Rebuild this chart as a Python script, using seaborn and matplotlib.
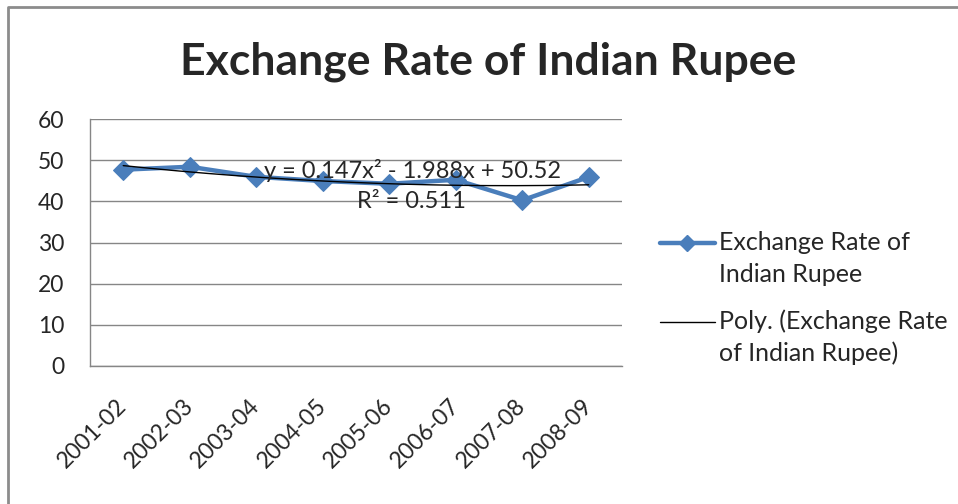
import numpy as np
import pandas as pd
import matplotlib.pyplot as plt
import seaborn as sns
from matplotlib.lines import Line2D

# Chart data
years = ['2001-02', '2002-03', '2003-04', '2004-05', '2005-06', '2006-07', '2007-08', '2008-09']
rate = [47.69, 48.40, 45.95, 44.93, 44.27, 45.24, 40.26, 45.92]
y_ticks = [0, 10, 20, 30, 40, 50, 60]
series_name = 'Exchange Rate of Indian Rupee'
eq_text = 'y = 0.147x\u00b2 - 1.988x + 50.52'
r2_text = 'R\u00b2 = 0.511'
legend_lines = [['Exchange Rate of', 'Indian Rupee'],
                ['Poly. (Exchange Rate', 'of Indian Rupee)']]

sns.set_style('white')
plt.rcParams['font.family'] = ['Lato', 'DejaVu Sans']

W, H = 958, 504
fig = plt.figure(figsize=(W / 100, H / 100), dpi=100)
ax = fig.add_axes([90 / W, (H - 366) / H, (622 - 90) / W, (366 - 119) / H])

df = pd.DataFrame({'pos': np.arange(len(years)), 'rate': rate})
blue = '#4a7ebb'
sns.lineplot(data=df, x='pos', y='rate', ax=ax, color=blue, linewidth=3.2,
             marker='D', markersize=10, markeredgecolor=blue, zorder=3)

# 2nd order polynomial trendline (Excel uses x = 1..n)
xn = np.arange(1, len(years) + 1)
coef = np.polyfit(xn, rate, 2)
xs = np.linspace(1, len(years), 200)
ax.plot(xs - 1, np.polyval(coef, xs), color='black', linewidth=1.0, zorder=4)

ax.set_xlim(-0.5, len(years) - 0.5)
ax.set_ylim(0, 60)
ax.set_yticks(y_ticks)
ax.set_yticklabels([str(v) for v in y_ticks], fontsize=16.5)
ax.set_xticks(np.arange(len(years) + 1) - 0.5)
ax.set_xticklabels([])
ax.set_xticks(np.arange(len(years)), minor=True)
ax.set_xticklabels(years, minor=True, rotation=45, ha='right', va='center',
                   rotation_mode='anchor', fontsize=16.5)
ax.tick_params(axis='x', which='major', length=7, color='#868686', direction='out')
ax.tick_params(axis='x', which='minor', length=0, pad=26)
ax.tick_params(axis='y', length=6.5, color='#868686', direction='out', pad=12)
ax.grid(axis='y', color='#868686', linewidth=1)
ax.set_axisbelow(True)
ax.set_xlabel('')
ax.set_ylabel('')
for s in ['top', 'right']:
    ax.spines[s].set_visible(False)
for s in ['left', 'bottom']:
    ax.spines[s].set_color('#868686')
    ax.spines[s].set_linewidth(1)

# trendline labels
ax.text(413 / W, (H - 170) / H, eq_text, transform=fig.transFigure, ha='center', va='center', fontsize=17, zorder=5)
ax.text(411 / W, (H - 201) / H, r2_text, transform=fig.transFigure, ha='center', va='center', fontsize=17, zorder=5)

fig.text(488 / W, (H - 62) / H, series_name, ha='center', va='center', fontsize=32, fontweight='bold')

# legend, handle aligned with the first line of each entry (Excel style)
handles = [dict(color=blue, linewidth=3.2, marker='D', markersize=8, markevery=[1]),
           dict(color='black', linewidth=1.0)]
for i, (style, lines) in enumerate(zip(handles, legend_lines)):
    y0 = 242.5 + i * 79.5
    fig.add_artist(Line2D([660 / W, 687 / W, 715 / W], [1 - y0 / H] * 3,
                          transform=fig.transFigure, **style))
    for j, line in enumerate(lines):
        fig.text(719 / W, 1 - (y0 + 7 + j * 32) / H, line, ha='left', va='baseline', fontsize=18)

# outer chart border (top and left edges visible)
fig.add_artist(Line2D([8 / W, 8 / W, 1], [0, 1 - 7 / H, 1 - 7 / H], transform=fig.transFigure,
                      color='#8c8c8c', linewidth=2))

fig.savefig('out.png', dpi=100)
